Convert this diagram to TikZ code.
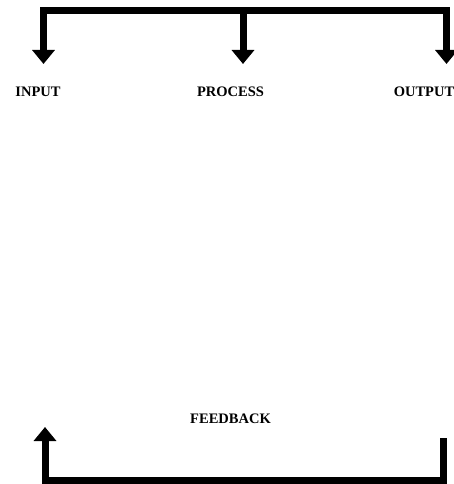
\documentclass[tikz,border=0pt]{standalone}
\usepackage{fontspec}
\setmainfont{Liberation Serif}
\usetikzlibrary{arrows.meta}
\begin{document}
\begin{tikzpicture}[x=1pt,y=-1pt,
  flow/.style={line width=7pt, line join=miter,
    -{Triangle[width=22pt,length=14pt]}},
  label/.style={font=\fontsize{14.5}{16}\selectfont\bfseries, inner sep=0pt, anchor=base}]
  \useasboundingbox (0,0) rectangle (453,484);
  % distribution bar with three downward arrows
  \coordinate (tl) at (43.5,11);
  \coordinate (tm) at (243,11);
  \coordinate (tr) at (446.5,11);
  \coordinate (inArr) at (43.5,64);
  \coordinate (prArr) at (243,64);
  \coordinate (outArr) at (446.5,64);
  \draw[flow] (tr) -- (tl) -- (inArr);
  \draw[flow] (tl) -- (tr) -- (outArr);
  \draw[flow] (tm) -- (prArr);
  % labels
  \node[label] (input) at (38,96) {INPUT};
  \node[label] (process) at (230.5,96) {PROCESS};
  \node[label] (output) at (424,96) {OUTPUT};
  \node[label] (feedback) at (230.5,423) {FEEDBACK};
  % feedback loop
  \coordinate (fbStart) at (443,438);
  \coordinate (fbRight) at (443,480.5);
  \coordinate (fbLeft) at (45,480.5);
  \coordinate (fbTip) at (45,427);
  \draw[flow] (fbStart) -- (fbRight) -- (fbLeft) -- (fbTip);
\end{tikzpicture}
\end{document}
